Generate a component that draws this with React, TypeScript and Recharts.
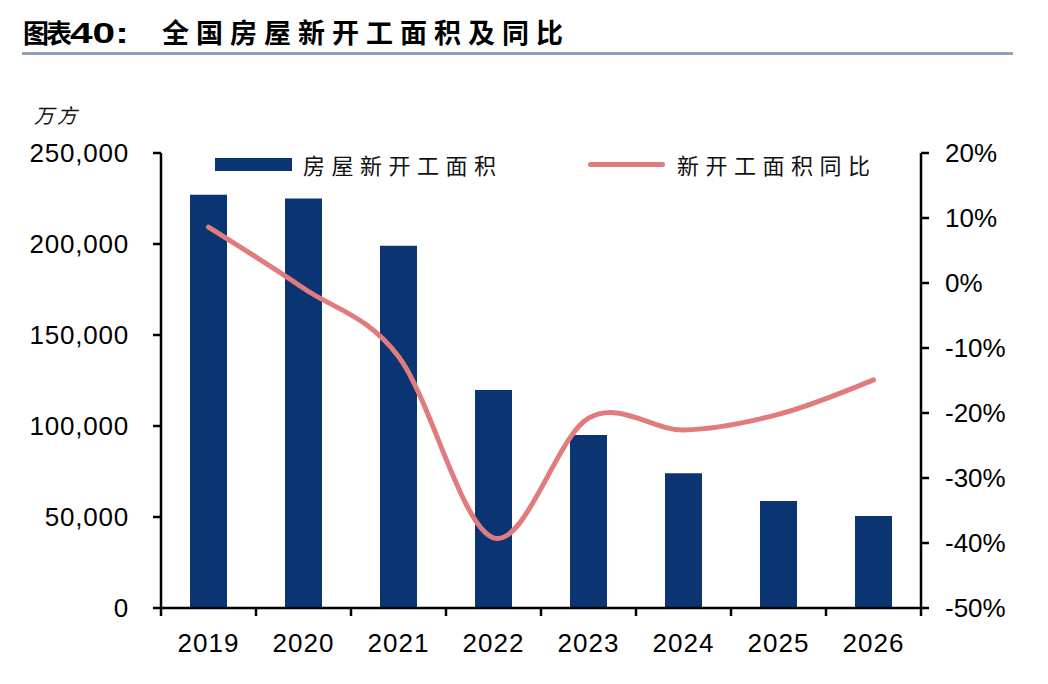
import React from 'react';
import { ComposedChart, Bar, Line, XAxis, YAxis, Legend } from 'recharts';

const years = ['2019', '2020', '2021', '2022', '2023', '2024', '2025', '2026'];
const newStartArea = [227000, 225000, 199000, 119800, 95100, 74000, 58800, 50500];
const newStartYoY = [8.6, -0.8, -11.3, -39.2, -20.8, -22.6, -20.2, -14.9];
const leftTicks = [0, 50000, 100000, 150000, 200000, 250000];
const rightTicks = [-50, -40, -30, -20, -10, 0, 10, 20];

const rows = years.map((y, i) => ({ year: y, area: newStartArea[i], yoy: newStartYoY[i] }));

const BAR_COLOR = '#0B3473';
const LINE_COLOR = '#E07B7E';
const CJK = "'Noto Sans CJK SC', 'Noto Sans', sans-serif";
const LATIN = "'Liberation Sans', Arial, sans-serif";

const W = 1048;
const H = 684;
const PLOT_LEFT = 161;
const PLOT_RIGHT = 921;
const PLOT_TOP = 153;
const PLOT_BOTTOM = 608;
const HALF_BAND = (PLOT_RIGHT - PLOT_LEFT) / years.length / 2;

// Excel-like smooth curve (cardinal / Catmull-Rom, tension 0)
function makeCardinal(context: any) {
  const k = 1 / 6;
  const c: any = {
    _context: context,
    _line: NaN,
    _point: 0,
    _x0: NaN, _x1: NaN, _x2: NaN, _y0: NaN, _y1: NaN, _y2: NaN,
  };
  const pt = (that: any, x: number, y: number) => {
    that._context.bezierCurveTo(
      that._x1 + k * (that._x2 - that._x0),
      that._y1 + k * (that._y2 - that._y0),
      that._x2 + k * (that._x1 - x),
      that._y2 + k * (that._y1 - y),
      that._x2,
      that._y2
    );
  };
  c.areaStart = function () { this._line = 0; };
  c.areaEnd = function () { this._line = NaN; };
  c.lineStart = function () {
    this._x0 = this._x1 = this._x2 = this._y0 = this._y1 = this._y2 = NaN;
    this._point = 0;
  };
  c.lineEnd = function () {
    switch (this._point) {
      case 2: this._context.lineTo(this._x2, this._y2); break;
      case 3: pt(this, this._x1, this._y1); break;
    }
    if (this._line || (this._line !== 0 && this._point === 1)) this._context.closePath();
    this._line = 1 - this._line;
  };
  c.point = function (x: number, y: number) {
    x = +x; y = +y;
    switch (this._point) {
      case 0:
        this._point = 1;
        this._line ? this._context.lineTo(x, y) : this._context.moveTo(x, y);
        break;
      case 1:
        this._point = 2;
        this._x1 = x; this._y1 = y;
        break;
      case 2:
        this._point = 3;
        pt(this, x, y);
        break;
      default:
        pt(this, x, y);
        break;
    }
    this._x0 = this._x1; this._x1 = this._x2; this._x2 = x;
    this._y0 = this._y1; this._y1 = this._y2; this._y2 = y;
  };
  return c;
}

const XTick = (props: any) => {
  const { x, y, payload, index } = props;
  const axisY = PLOT_BOTTOM;
  return (
    <g>
      <line x1={x - HALF_BAND} y1={axisY} x2={x - HALF_BAND} y2={axisY + 8} stroke="#000" strokeWidth={2.5} />
      {index === years.length - 1 && (
        <line x1={x + HALF_BAND} y1={axisY} x2={x + HALF_BAND} y2={axisY + 8} stroke="#000" strokeWidth={2.5} />
      )}
      <text x={x} y={y + 19} textAnchor="middle" fontFamily={LATIN} fontSize={26} fill="#000" letterSpacing={1}>
        {payload.value}
      </text>
    </g>
  );
};

const legendText: React.CSSProperties = {
  position: 'absolute',
  top: 0,
  fontFamily: CJK,
  fontSize: 22,
  lineHeight: '28px',
  letterSpacing: 6.5,
  color: '#111',
  whiteSpace: 'nowrap',
};

const renderLegend = () => (
  <div style={{ position: 'relative', width: 700, height: 32 }}>
    <div style={{ position: 'absolute', left: 5, top: 8, width: 77, height: 13, background: BAR_COLOR }} />
    <div style={{ ...legendText, left: 93 }}>房屋新开工面积</div>
    <div style={{ position: 'absolute', left: 378, top: 12, width: 77, height: 5, borderRadius: 3, background: LINE_COLOR }} />
    <div style={{ ...legendText, left: 467 }}>新开工面积同比</div>
  </div>
);

export default function App() {
  return (
    <div style={{ position: 'absolute', left: 0, top: 0, width: W, height: H, background: '#fff', overflow: 'hidden' }}>
      <div style={{ position: 'absolute', left: 23, top: 16, fontFamily: CJK, fontWeight: 700, fontSize: 26, lineHeight: '32px', letterSpacing: -3, color: '#000', whiteSpace: 'nowrap' }}>
        图表
      </div>
      <div style={{ position: 'absolute', left: 70, top: 17, fontFamily: LATIN, fontWeight: 700, fontSize: 29, lineHeight: '32px', color: '#000', whiteSpace: 'nowrap', transform: 'scaleX(1.4)', transformOrigin: 'left center' }}>
        40:
      </div>
      <div style={{ position: 'absolute', left: 162, top: 16, fontFamily: CJK, fontWeight: 700, fontSize: 27, lineHeight: '32px', letterSpacing: 7, color: '#000', whiteSpace: 'nowrap' }}>
        全国房屋新开工面积及同比
      </div>
      <div style={{ position: 'absolute', left: 22, top: 52, width: 991, height: 3, background: '#8DA2B6' }} />
      <div style={{ position: 'absolute', left: 34, top: 103, fontFamily: CJK, fontSize: 20, lineHeight: '24px', letterSpacing: 3, fontStyle: 'italic', color: '#111', whiteSpace: 'nowrap' }}>
        万方
      </div>
      <ComposedChart
        width={W}
        height={H}
        data={rows}
        margin={{ top: PLOT_TOP, right: 0, bottom: 0, left: 0 }}
      >
        <XAxis
          dataKey="year"
          height={H - PLOT_BOTTOM}
          interval={0}
          tickLine={false}
          tickSize={8}
          tickMargin={17}
          axisLine={{ stroke: '#000', strokeWidth: 2.5 }}
          tick={<XTick />}
        />
        <YAxis
          yAxisId="left"
          width={PLOT_LEFT}
          domain={[0, 250000]}
          ticks={leftTicks}
          interval={0}
          tickFormatter={(v: number) => v.toLocaleString('en-US')}
          tickSize={8}
          tickMargin={24}
          axisLine={{ stroke: '#000', strokeWidth: 2.5 }}
          tickLine={{ stroke: '#000', strokeWidth: 2.5 }}
          tick={{ fill: '#000', fontSize: 26, fontFamily: LATIN, letterSpacing: 0.8 }}
        />
        <YAxis
          yAxisId="right"
          orientation="right"
          width={W - PLOT_RIGHT}
          domain={[-50, 20]}
          ticks={rightTicks}
          interval={0}
          tickFormatter={(v: number) => `${v}%`}
          tickSize={8}
          tickMargin={16}
          axisLine={{ stroke: '#000', strokeWidth: 2.5 }}
          tickLine={{ stroke: '#000', strokeWidth: 2.5 }}
          tick={{ fill: '#000', fontSize: 26, fontFamily: LATIN }}
        />
        <Legend
          layout="horizontal"
          verticalAlign="middle"
          align="center"
          wrapperStyle={{ position: 'absolute', top: 150, left: 210, width: 700, height: 32 }}
          content={renderLegend}
        />
        <Bar yAxisId="left" dataKey="area" name="房屋新开工面积" fill={BAR_COLOR} barSize={37} isAnimationActive={false} />
        <Line
          yAxisId="right"
          dataKey="yoy"
          name="新开工面积同比"
          type={makeCardinal as any}
          stroke={LINE_COLOR}
          strokeWidth={5}
          strokeLinecap="round"
          dot={false}
          activeDot={false}
          isAnimationActive={false}
        />
      </ComposedChart>
    </div>
  );
}
